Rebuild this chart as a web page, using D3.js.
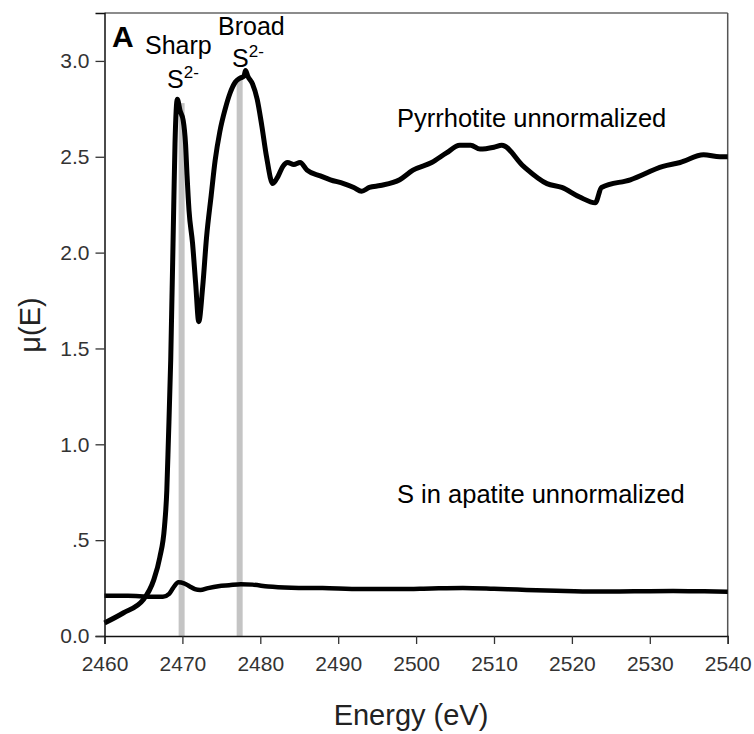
<!DOCTYPE html>
<html>
<head>
<meta charset="utf-8">
<script src="https://cdn.jsdelivr.net/npm/d3@7"></script>
<style>
  body { margin: 0; background: #fff; }
  text { font-family: "Liberation Sans", Arial, sans-serif; }
</style>
</head>
<body>
<script>
// pyrrhotite spectrum (energy eV / mu(E))
var pyEnergy = [2460, 2462.4, 2465.0, 2466.3, 2467.1, 2467.7, 2468.0, 2468.2, 2468.5, 2468.9, 2469.05, 2469.35,
  2469.7, 2470.1, 2470.4, 2470.6, 2470.85, 2471.3, 2471.7, 2472.1, 2472.6, 2473.1, 2473.7, 2474.2, 2474.8,
  2475.5, 2476.1, 2476.8, 2477.4, 2477.9, 2478.1, 2478.4, 2479.0, 2479.6, 2480.2, 2480.8, 2481.6, 2482.3,
  2482.9, 2483.5, 2484.3, 2485.1, 2486.0, 2487.7, 2489.0, 2490.7, 2492.0, 2493.0, 2494.0, 2495.4, 2497.9,
  2499.6, 2502.0, 2503.9, 2505.6, 2507.0, 2508.2, 2510.0, 2511.0, 2513.8, 2516.8, 2518.7, 2521.0, 2523.0,
  2523.8, 2527.5, 2531.7, 2533.9, 2536.9, 2539.0, 2540];
var pyMu = [0.068, 0.12, 0.19, 0.29, 0.41, 0.57, 0.76, 1.02, 1.44, 2.27, 2.57, 2.80,
  2.74, 2.69, 2.57, 2.40, 2.22, 2.05, 1.84, 1.64, 1.82, 2.08, 2.30, 2.48, 2.63,
  2.75, 2.83, 2.89, 2.91, 2.92, 2.95, 2.92, 2.88, 2.80, 2.66, 2.50, 2.36, 2.40,
  2.45, 2.47, 2.46, 2.47, 2.43, 2.40, 2.38, 2.36, 2.34, 2.32, 2.34, 2.35, 2.38,
  2.43, 2.47, 2.52, 2.56, 2.56, 2.54, 2.55, 2.56, 2.45, 2.36, 2.34, 2.29, 2.26,
  2.34, 2.38, 2.45, 2.47, 2.51, 2.50, 2.50];

// S in apatite spectrum
var apEnergy = [2460, 2463, 2466, 2467.5, 2468.3, 2468.8, 2469.5, 2470.2, 2470.9, 2471.6, 2472.3, 2473.3,
  2474.6, 2476.0, 2477.5, 2479.0, 2481.0, 2484, 2488, 2493, 2498, 2502, 2506, 2510, 2513, 2518, 2523,
  2528, 2533, 2537, 2540];
var apMu = [0.21, 0.21, 0.205, 0.205, 0.22, 0.25, 0.28, 0.275, 0.26, 0.245, 0.24, 0.25,
  0.26, 0.265, 0.27, 0.268, 0.258, 0.252, 0.25, 0.245, 0.245, 0.248, 0.25, 0.246, 0.242, 0.236, 0.232,
  0.233, 0.235, 0.233, 0.231];

// gray marker bands: energy and height
var bandEnergy = [2469.9, 2477.35];
var bandTop = [2.78, 2.91];

var xTicks = [2460, 2470, 2480, 2490, 2500, 2510, 2520, 2530, 2540];
var yTicks = [0, 0.5, 1.0, 1.5, 2.0, 2.5, 3.0];
var yTickLabels = ["0.0", ".5", "1.0", "1.5", "2.0", "2.5", "3.0"];

var width = 754, height = 734;
var margin = {left: 104.5, right: 26.3, top: 13, bottom: 98};

var svg = d3.select('body').append('svg')
  .attr('width', width).attr('height', height);

var x = d3.scaleLinear().domain([2460, 2540]).range([margin.left, width - margin.right]);
var y = d3.scaleLinear().domain([0, 3.25]).range([height - margin.bottom, margin.top]);

// bands
svg.selectAll('rect.band')
  .data(bandEnergy)
  .enter().append('rect')
  .attr('class', 'band')
  .attr('x', function(d) { return x(d) - 3; })
  .attr('width', 6)
  .attr('y', function(d, i) { return y(bandTop[i]); })
  .attr('height', function(d, i) { return y(0) - y(bandTop[i]); })
  .attr('fill', '#c4c4c4');

// frame top/right
svg.append('line')
  .attr('x1', x(2460)).attr('x2', x(2540)).attr('y1', y(3.25)).attr('y2', y(3.25))
  .attr('stroke', '#666').attr('stroke-width', 1.5);
svg.append('line')
  .attr('x1', x(2540)).attr('x2', x(2540)).attr('y1', y(3.25)).attr('y2', y(0))
  .attr('stroke', '#555').attr('stroke-width', 1.5);

var line = d3.line()
  .x(function(d) { return x(d[0]); })
  .y(function(d) { return y(d[1]); })
  .curve(d3.curveMonotoneX);

var pyData = d3.zip(pyEnergy, pyMu);
var apData = d3.zip(apEnergy, apMu);

svg.append('path').datum(apData)
  .attr('d', line).attr('fill', 'none').attr('stroke', '#000')
  .attr('stroke-width', 4.5).attr('stroke-linejoin', 'round');
svg.append('path').datum(pyData)
  .attr('d', line).attr('fill', 'none').attr('stroke', '#000')
  .attr('stroke-width', 5).attr('stroke-linejoin', 'round');

// axes
var xAxis = svg.append('g')
  .attr('transform', 'translate(0,' + y(0) + ')')
  .call(d3.axisBottom(x).tickValues(xTicks).tickSize(8).tickPadding(12).tickFormat(d3.format('d')));
var yAxis = svg.append('g')
  .attr('transform', 'translate(' + x(2460) + ',0)')
  .call(d3.axisLeft(y).tickValues(yTicks).tickSize(9).tickPadding(6)
    .tickFormat(function(d, i) { return yTickLabels[i]; }));

[xAxis, yAxis].forEach(function(g) {
  g.select('.domain').attr('stroke', '#111').attr('stroke-width', 1.5);
  g.selectAll('.tick line').attr('stroke', '#333').attr('stroke-width', 1.3);
  g.selectAll('.tick text').attr('fill', '#333').attr('font-size', 21)
    .attr('font-family', '"Liberation Sans", Arial, sans-serif');
});

// axis titles
svg.append('text')
  .attr('x', 411).attr('y', 725)
  .attr('text-anchor', 'middle')
  .style('font-size', '29px').attr('fill', '#222')
  .text('Energy (eV)');
svg.append('text')
  .attr('transform', 'translate(40,325) rotate(-90)')
  .attr('text-anchor', 'middle')
  .style('font-size', '29px').attr('fill', '#222')
  .text('μ(E)');

// annotations
svg.append('text').attr('x', 112).attr('y', 47)
  .style('font-size', '30px').style('font-weight', 'bold').text('A');

svg.append('text').attr('x', 145).attr('y', 54)
  .style('font-size', '25px').text('Sharp');
var s1 = svg.append('text').attr('x', 167).attr('y', 88).style('font-size', '25px');
s1.append('tspan').text('S');
s1.append('tspan').attr('dy', -10).style('font-size', '17px').text('2-');

svg.append('text').attr('x', 218).attr('y', 35)
  .style('font-size', '25px').text('Broad');
var s2 = svg.append('text').attr('x', 232).attr('y', 67).style('font-size', '25px');
s2.append('tspan').text('S');
s2.append('tspan').attr('dy', -10).style('font-size', '17px').text('2-');

svg.append('text').attr('x', 397).attr('y', 127)
  .style('font-size', '25.5px').text('Pyrrhotite unnormalized');
svg.append('text').attr('x', 397).attr('y', 503)
  .style('font-size', '25.5px').text('S in apatite unnormalized');
</script>
</body>
</html>
